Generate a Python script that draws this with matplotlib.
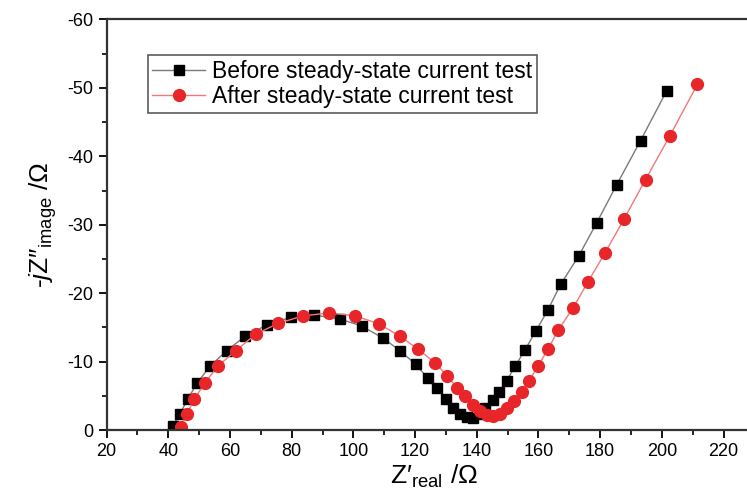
import matplotlib.pyplot as plt
from matplotlib.ticker import MultipleLocator

plt.rcParams['font.family'] = ['Liberation Sans', 'DejaVu Sans']
plt.rcParams['mathtext.fontset'] = 'custom'
plt.rcParams['mathtext.rm'] = 'Liberation Sans'
plt.rcParams['mathtext.it'] = 'Liberation Sans:italic'
plt.rcParams['axes.unicode_minus'] = False

# Nyquist data (Z' real, -Z'' image)
before_x = [41.4, 43.8, 46.3, 49.4, 53.5, 58.9, 64.9, 72.1, 79.8, 87.3,
            95.7, 102.7, 109.7, 115.1, 120.2, 124.1, 127.0, 129.9, 132.4, 134.6,
            136.7, 138.9, 140.8, 142.7, 145.2, 147.3, 149.7, 152.4, 155.6, 159.2,
            163.0, 167.2, 173.0, 178.9, 185.3, 193.1, 201.6]
before_y = [-0.6, -2.4, -4.5, -6.9, -9.3, -11.6, -13.7, -15.4, -16.5, -16.8,
            -16.2, -15.2, -13.4, -11.6, -9.6, -7.6, -6.1, -4.6, -3.2, -2.4,
            -1.9, -1.7, -2.3, -3.2, -4.4, -5.6, -7.2, -9.3, -11.7, -14.5,
            -17.5, -21.3, -25.4, -30.3, -35.8, -42.3, -49.6]

after_x = [44.0, 46.0, 48.4, 51.9, 56.2, 61.9, 68.3, 75.7, 83.8, 92.2,
           100.5, 108.3, 115.1, 121.0, 126.5, 130.5, 133.5, 136.2, 138.9, 141.0,
           143.2, 145.4, 147.5, 149.7, 152.1, 154.6, 157.0, 159.9, 163.2, 166.4,
           171.3, 176.1, 181.6, 187.7, 194.7, 202.6, 211.5]
after_y = [-0.5, -2.3, -4.5, -6.9, -9.4, -11.6, -14.0, -15.6, -16.7, -17.1,
           -16.7, -15.5, -13.7, -11.8, -9.8, -7.9, -6.2, -4.9, -3.7, -2.8,
           -2.2, -2.0, -2.4, -3.2, -4.3, -5.6, -7.2, -9.4, -11.9, -14.6,
           -17.9, -21.7, -25.9, -30.8, -36.6, -43.0, -50.5]

labels = ['Before steady-state current test', 'After steady-state current test']

fig = plt.figure(figsize=(7.47, 4.98), dpi=100)
ax = fig.add_axes([0.1427, 0.1365, 0.8755, 0.8245])

ax.plot(before_x, before_y, color='#7a7a7a', lw=1.0, marker='s', ms=7.5,
        mfc='black', mec='black', label=labels[0])
ax.plot(after_x, after_y, color='#f07878', lw=1.0, marker='o', ms=8.5,
        mfc='#e8262a', mec='#e8262a', label=labels[1])

ax.set_xlim(20, 232)
ax.set_ylim(0, -60)
ax.xaxis.set_major_locator(MultipleLocator(20))
ax.xaxis.set_minor_locator(MultipleLocator(10))
ax.yaxis.set_major_locator(MultipleLocator(10))
ax.yaxis.set_minor_locator(MultipleLocator(5))
ax.tick_params(which='major', direction='out', length=6, width=1.3, labelsize=13)
ax.tick_params(which='minor', direction='out', length=3.5, width=1.2)

for s in ax.spines.values():
    s.set_linewidth(1.6)
    s.set_color('#333333')

ax.set_xlabel('Z′$_{\\mathregular{real}}$ /Ω', fontsize=19, labelpad=2)
ax.set_ylabel('-$\\it{j}$Z″$_{\\mathregular{image}}$ /Ω', fontsize=19, labelpad=6)

leg = ax.legend(loc='upper left', bbox_to_anchor=(0.063, 0.913), borderaxespad=0,
                fontsize=16.5, numpoints=1, handlelength=2.3, handletextpad=0.3,
                fancybox=False, edgecolor='#333333', borderpad=0.2, labelspacing=0.1)
leg.get_frame().set_linewidth(1.2)

fig.savefig('out.png', dpi=100)
